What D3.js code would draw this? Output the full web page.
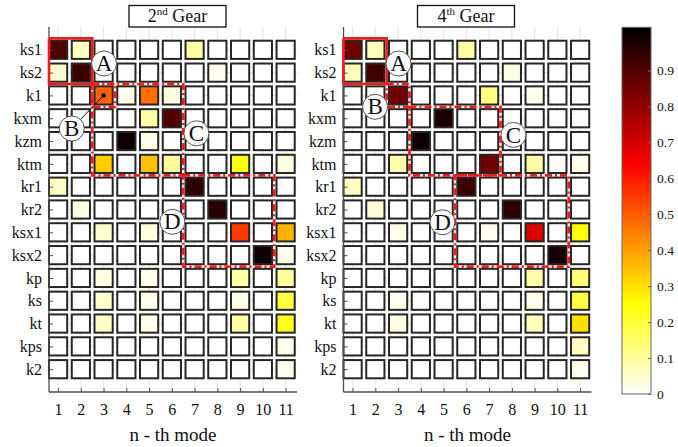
<!DOCTYPE html>
<html>
<head>
<meta charset="utf-8">
<script src="https://cdn.jsdelivr.net/npm/d3@7/dist/d3.min.js"></script>
<style>
  body { margin: 0; background: #fff; }
  svg { display: block; }
  svg text { font-family: "Liberation Serif", "Times New Roman", "DejaVu Serif", serif !important; fill: #111; }
</style>
</head>
<body>
<svg id="chart" width="678" height="447"></svg>
<script>
// ---- data ---------------------------------------------------------------
const modes = [1, 2, 3, 4, 5, 6, 7, 8, 9, 10, 11];
const params = ["ks1", "ks2", "k1", "kxm", "kzm", "ktm", "kr1", "kr2",
                "ksx1", "ksx2", "kp", "ks", "kt", "kps", "k2"];

// normalised participation per parameter (rows) and mode (columns), 2nd gear
const gear2 = [
  [0.90, 0.06, 0,    0,    0,    0,    0.09, 0,    0,    0,    0   ], // ks1
  [0.05, 0.93, 0,    0,    0,    0,    0,    0.02, 0,    0,    0   ], // ks2
  [0,    0,    0.49, 0.02, 0.47, 0.03, 0,    0,    0,    0,    0   ], // k1
  [0,    0,    0,    0,    0.09, 0.90, 0,    0,    0,    0,    0   ], // kxm
  [0,    0,    0,    1.00, 0.02, 0,    0,    0,    0,    0,    0   ], // kzm
  [0,    0,    0.33, 0,    0.35, 0.10, 0,    0,    0.24, 0,    0.03], // ktm
  [0.06, 0,    0,    0,    0,    0,    0.95, 0,    0,    0,    0   ], // kr1
  [0,    0.03, 0,    0,    0,    0,    0,    0.96, 0,    0,    0   ], // kr2
  [0,    0,    0.05, 0,    0.03, 0,    0,    0,    0.55, 0,    0.37], // ksx1
  [0,    0,    0,    0,    0,    0,    0,    0,    0,    1.00, 0.02], // ksx2
  [0,    0,    0.03, 0,    0.02, 0,    0,    0,    0.09, 0,    0.10], // kp
  [0,    0,    0.05, 0,    0.02, 0,    0,    0,    0.03, 0,    0.19], // ks
  [0,    0,    0.06, 0,    0.02, 0,    0,    0,    0.09, 0,    0.23], // kt
  [0,    0,    0,    0,    0,    0,    0,    0,    0,    0,    0.02], // kps
  [0,    0,    0,    0,    0,    0,    0,    0,    0,    0,    0.02]  // k2
];

// same quantity, 4th gear
const gear4 = [
  [0.85, 0.07, 0,    0,    0,    0.09, 0,    0,    0,    0,    0   ], // ks1
  [0.07, 0.92, 0,    0,    0,    0,    0,    0.03, 0,    0,    0   ], // ks2
  [0,    0,    0.85, 0,    0,    0,    0.13, 0,    0.02, 0,    0   ], // k1
  [0,    0,    0,    0,    0.98, 0,    0,    0,    0,    0,    0   ], // kxm
  [0,    0,    0,    1.00, 0,    0,    0,    0,    0,    0,    0   ], // kzm
  [0,    0,    0.08, 0,    0,    0,    0.85, 0,    0.09, 0,    0.02], // ktm
  [0.06, 0,    0,    0,    0,    0.93, 0,    0,    0,    0,    0   ], // kr1
  [0,    0.04, 0,    0,    0,    0,    0,    0.95, 0,    0,    0   ], // kr2
  [0,    0,    0.02, 0,    0,    0,    0.02, 0,    0.69, 0,    0.25], // ksx1
  [0,    0,    0,    0,    0,    0,    0,    0,    0,    0.99, 0   ], // ksx2
  [0,    0,    0,    0,    0,    0,    0,    0,    0.09, 0,    0.14], // kp
  [0,    0,    0.02, 0,    0,    0,    0,    0,    0.02, 0,    0.19], // ks
  [0,    0,    0.03, 0,    0,    0,    0,    0,    0.07, 0,    0.30], // kt
  [0,    0,    0,    0,    0,    0,    0,    0,    0,    0,    0.06], // kps
  [0,    0,    0,    0,    0,    0,    0,    0,    0,    0,    0.02]  // k2
];

const colorTicks = [0, 0.1, 0.2, 0.3, 0.4, 0.5, 0.6, 0.7, 0.8, 0.9];
const colorMax = 1.02;

// highlighted groups: [col0, col1, row0, row1] in axis units
const groups2 = {
  A: { box: [0.6, 2.5, 0.5, 2.5], solid: true },
  B: { box: [2.5, 3.5, 2.5, 3.5] },
  C: { box: [2.5, 6.5, 2.5, 6.5] },
  D: { box: [6.5, 10.5, 6.5, 10.5] }
};
const groups4 = {
  A: { box: [0.6, 2.5, 0.5, 2.5], solid: true },
  B: { box: [2.5, 3.5, 2.5, 3.5] },
  C: { box: [3.5, 7.5, 3.5, 6.5] },
  D: { box: [5.5, 10.5, 6.5, 10.5] }
};
// circled letters: [x, y] in axis units, optional pointer target
const letters2 = [
  { t: "A", at: [3.02, 1.6] },
  { t: "B", at: [1.6, 4.45], pointTo: [3, 3] },
  { t: "C", at: [7.08, 4.66] },
  { t: "D", at: [6.02, 8.54] }
];
const letters4 = [
  { t: "A", at: [3.02, 1.6] },
  { t: "B", at: [1.99, 3.5] },
  { t: "C", at: [8.07, 4.73] },
  { t: "D", at: [4.95, 8.56] }
];

// ---- colour map: reversed "hot" (white -> yellow -> red -> black) --------
function hotReversed(n) {
  const t = 1 - Math.max(0, Math.min(1, n));
  const c = v => Math.round(255 * Math.max(0, Math.min(1, v)));
  const r = c(t / 0.375), g = c((t - 0.375) / 0.375), b = c((t - 0.75) / 0.25);
  return `rgb(${r},${g},${b})`;
}
const color = d3.scaleSequential(hotReversed).domain([0, colorMax]);

// ---- layout --------------------------------------------------------------
const serif = '"Liberation Serif", "Times New Roman", "DejaVu Serif", serif';
const svg = d3.select("#chart");
const plotTop = 27, plotBottom = 392;
const panels = [
  { title: ["2", "nd", " Gear"], data: gear2, groups: groups2, letters: letters2,
    x0: 49, x1: 297, titleCx: 177.5 },
  { title: ["4", "th", " Gear"], data: gear4, groups: groups4, letters: letters4,
    x0: 343.5, x1: 591.5, titleCx: 466 }
];

const y = d3.scaleLinear().domain([0, 16]).range([plotTop, plotBottom]);
const gridStroke = "#e4e4e4";
const axisStroke = "#4d4d4d";

panels.forEach(p => {
  const x = d3.scaleLinear().domain([0.6, 11.5]).range([p.x0, p.x1]);
  const g = svg.append("g").attr("font-family", serif);

  // grid
  g.append("g").selectAll("line").data(modes).join("line")
    .attr("x1", d => x(d)).attr("x2", d => x(d))
    .attr("y1", plotTop).attr("y2", plotBottom)
    .attr("stroke", gridStroke).attr("stroke-width", 1);
  g.append("g").selectAll("line").data(d3.range(1, params.length + 1)).join("line")
    .attr("x1", p.x0).attr("x2", p.x1)
    .attr("y1", d => y(d)).attr("y2", d => y(d))
    .attr("stroke", gridStroke).attr("stroke-width", 1);

  // cells
  const cells = [];
  p.data.forEach((row, r) => row.forEach((v, c) => cells.push({ r: r + 1, c: modes[c], v })));
  const cw = 18.2;
  g.append("g").selectAll("rect").data(cells).join("rect")
    .attr("x", d => x(d.c) - cw / 2)
    .attr("y", d => y(d.r) - cw / 2)
    .attr("width", cw).attr("height", cw)
    .attr("fill", d => color(d.v))
    .attr("stroke", "#262626").attr("stroke-width", 2);

  // axes (inward ticks, no box)
  const xAxis = d3.axisBottom(x).tickValues(modes).tickSize(-4).tickPadding(12);
  const gx = g.append("g").attr("transform", `translate(0,${plotBottom})`).call(xAxis);
  gx.select(".domain").attr("d", `M${p.x0},0H${p.x1}`);
  const yAxis = d3.axisLeft(y).tickValues(d3.range(1, params.length + 1))
    .tickFormat(i => params[i - 1]).tickSize(-4).tickPadding(7);
  const gy = g.append("g").attr("transform", `translate(${p.x0},0)`).call(yAxis);
  gy.select(".domain").attr("d", `M0,${plotTop}V${plotBottom}`);
  [gx, gy].forEach(a => {
    a.attr("font-family", serif).attr("font-size", 16);
    a.select(".domain").attr("stroke", axisStroke).attr("stroke-width", 1.3);
    a.selectAll(".tick line").attr("stroke", axisStroke);
    a.selectAll("text").attr("fill", "#111");
  });

  // axis label
  g.append("text").attr("x", (p.x0 + p.x1) / 2).attr("y", 441)
    .attr("text-anchor", "middle").attr("font-size", 19).text("n - th mode");

  // title box
  g.append("rect").attr("x", p.titleCx - 48.5).attr("y", 5.5)
    .attr("width", 97).attr("height", 21.5)
    .attr("fill", "#fff").attr("stroke", "#111").attr("stroke-width", 1.3);
  const tt = g.append("text").attr("x", p.titleCx).attr("y", 22)
    .attr("text-anchor", "middle").attr("font-size", 18);
  tt.append("tspan").text(p.title[0]);
  tt.append("tspan").attr("dy", -7).attr("font-size", 11).text(p.title[1]);
  tt.append("tspan").attr("dy", 7).text(p.title[2]);

  // highlighted groups
  const line = d3.line().x(d => x(d[0])).y(d => y(d[1]));
  Object.values(p.groups).forEach(gr => {
    const [c0, c1, r0, r1] = gr.box;
    g.append("path")
      .attr("d", line([[c0, r0], [c1, r0], [c1, r1], [c0, r1], [c0, r0]]))
      .attr("fill", "none").attr("stroke", "#ee1c1c")
      .attr("stroke-width", gr.solid ? 2.6 : 2.8)
      .attr("stroke-dasharray", gr.solid ? null : "7,3,2,3");
  });

  // circled letters
  p.letters.forEach(l => {
    const cx = x(l.at[0]), cy = y(l.at[1]);
    if (l.pointTo) {
      const tx = x(l.pointTo[0]), ty = y(l.pointTo[1]);
      g.append("line").attr("x1", cx).attr("y1", cy).attr("x2", tx).attr("y2", ty)
        .attr("stroke", "#111").attr("stroke-width", 1);
      g.append("circle").attr("cx", tx).attr("cy", ty).attr("r", 2.3).attr("fill", "#111");
    }
    g.append("circle").attr("cx", cx).attr("cy", cy).attr("r", 12.5)
      .attr("fill", "#fff").attr("stroke", "#555").attr("stroke-width", 1);
    g.append("text").attr("x", cx).attr("y", cy + 7.6)
      .attr("text-anchor", "middle").attr("font-size", 23).text(l.t);
  });
});

// ---- colour bar ----------------------------------------------------------
const cbX = 622, cbW = 29;
const cbY = d3.scaleLinear().domain([0, colorMax]).range([394, 27.3]);
const defs = svg.append("defs");
const grad = defs.append("linearGradient").attr("id", "cbGrad")
  .attr("x1", 0).attr("y1", 1).attr("x2", 0).attr("y2", 0);
d3.range(0, 1.0001, 1 / 64).forEach(s => {
  grad.append("stop").attr("offset", s).attr("stop-color", color(s * colorMax));
});
const cb = svg.append("g");
cb.append("rect").attr("x", cbX).attr("y", cbY(colorMax))
  .attr("width", cbW).attr("height", cbY(0) - cbY(colorMax))
  .attr("fill", "url(#cbGrad)").attr("stroke", "#666").attr("stroke-width", 1);
const cbAxis = d3.axisRight(cbY).tickValues(colorTicks)
  .tickFormat(d => d === 0 ? "0" : d3.format(".1f")(d)).tickSize(-3).tickPadding(6);
const gcb = cb.append("g").attr("transform", `translate(${cbX + cbW},0)`).call(cbAxis);
gcb.attr("font-family", serif).attr("font-size", 13.5);
gcb.select(".domain").remove();
gcb.selectAll(".tick line").attr("stroke", "#666");
gcb.selectAll("text").attr("fill", "#222");
</script>
</body>
</html>
